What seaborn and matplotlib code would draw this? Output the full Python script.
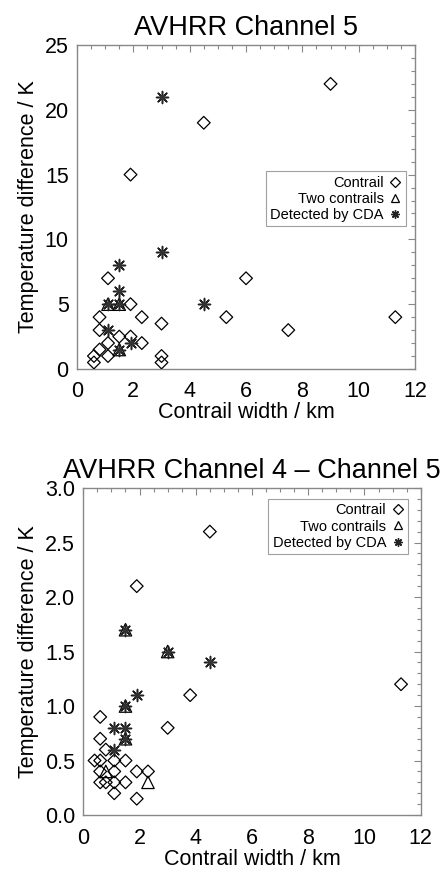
import matplotlib
matplotlib.use("Agg")
import matplotlib.pyplot as plt
import seaborn as sns
import pandas as pd
from matplotlib.lines import Line2D
from matplotlib.ticker import MultipleLocator

sns.set_style("white")
plt.rcParams['font.family'] = ['Liberation Sans', 'DejaVu Sans']
plt.rcParams['text.color'] = 'black'
plt.rcParams['axes.labelcolor'] = 'black'
plt.rcParams['xtick.color'] = 'black'
plt.rcParams['ytick.color'] = 'black'

# ---- Panel 1: AVHRR Channel 5 ----
ch5_contrail_x = [9.0, 4.5, 1.9, 1.1, 6.0, 1.9, 0.8, 2.3, 5.3, 11.3, 3.0, 0.8, 7.5,
                  1.5, 1.9, 1.1, 2.3, 0.8, 0.6, 1.1, 3.0, 0.6, 3.0]
ch5_contrail_y = [22.0, 19.0, 15.0, 7.0, 7.0, 5.0, 4.0, 4.0, 4.0, 4.0, 3.5, 3.0, 3.0,
                  2.5, 2.5, 2.0, 2.0, 1.5, 1.0, 1.0, 1.0, 0.5, 0.5]
ch5_two_x = [1.1, 1.5, 1.5]
ch5_two_y = [5.0, 5.0, 1.5]
ch5_cda_x = [3.0, 3.0, 1.5, 1.5, 1.1, 1.5, 4.5, 1.1, 1.9, 1.5]
ch5_cda_y = [21.0, 9.0, 8.0, 6.0, 5.0, 5.0, 5.0, 3.0, 2.0, 1.5]

# ---- Panel 2: AVHRR Channel 4 - Channel 5 ----
ch45_contrail_x = [4.5, 1.9, 3.8, 0.6, 3.0, 0.6, 0.8, 0.4, 0.6, 1.1, 1.5,
                   0.6, 1.1, 1.9, 2.3, 0.6, 0.8, 1.1, 1.5, 1.1, 1.9, 11.3]
ch45_contrail_y = [2.6, 2.1, 1.1, 0.9, 0.8, 0.7, 0.6, 0.5, 0.5, 0.5, 0.5,
                   0.4, 0.4, 0.4, 0.4, 0.3, 0.3, 0.3, 0.3, 0.2, 0.15, 1.2]
ch45_two_x = [1.5, 3.0, 1.5, 1.5, 0.8, 2.3]
ch45_two_y = [1.7, 1.5, 1.0, 0.7, 0.4, 0.3]
ch45_cda_x = [1.5, 3.0, 4.5, 1.9, 1.5, 1.1, 1.5, 1.5, 1.1]
ch45_cda_y = [1.7, 1.5, 1.4, 1.1, 1.0, 0.8, 0.8, 0.7, 0.6]

xticks = [0, 2, 4, 6, 8, 10, 12]

fig = plt.figure(figsize=(4.47, 8.69), dpi=100)
ax1 = fig.add_axes([0.1723, 0.5754, 0.7562, 0.3728])
ax2 = fig.add_axes([0.1864, 0.0621, 0.7548, 0.3763])

SPINE = '#888888'
LAB = 15.5

def draw(ax, cx, cy, tx, ty, sx, sy):
    sns.scatterplot(x=cx, y=cy, ax=ax, marker='D', s=42, facecolors='none',
                    edgecolor='black', linewidth=0.9, zorder=3, legend=False)
    sns.scatterplot(x=tx, y=ty, ax=ax, marker='^', s=80, facecolors='none',
                    edgecolor='black', linewidth=0.9, zorder=3, legend=False)
    sns.scatterplot(x=sx, y=sy, ax=ax, marker=(8, 2, 0), s=75, color='#222222',
                    linewidth=1.1, zorder=4, legend=False)
    sns.scatterplot(x=sx, y=sy, ax=ax, marker='o', s=16, color='#333333',
                    linewidth=0, zorder=4, legend=False)

def style(ax, ylim, ymaj, ymin, yfmt):
    ax.set_xlim(0, 12)
    ax.set_ylim(*ylim)
    ax.set_xticks(xticks)
    ax.xaxis.set_minor_locator(MultipleLocator(0.5))
    ax.yaxis.set_major_locator(MultipleLocator(ymaj))
    ax.yaxis.set_minor_locator(MultipleLocator(ymin))
    ax.yaxis.set_major_formatter(yfmt)
    for s in ax.spines.values():
        s.set_color(SPINE)
        s.set_linewidth(1.0)
    ax.tick_params(which='both', direction='in', top=True, right=True,
                   color=SPINE, width=0.8, labelsize=LAB, labelcolor='black', pad=6)
    ax.tick_params(axis='x', which='major', pad=9)
    ax.tick_params(which='major', length=5)
    ax.tick_params(which='minor', length=3)
    ax.set_xlabel('Contrail width / km', fontsize=LAB, labelpad=0, color='black')
    ax.set_ylabel('Temperature difference / K', fontsize=LAB, color='black')

def legend(ax, **kw):
    handles = [
        Line2D([], [], linestyle='', marker='D', markersize=5, markerfacecolor='none',
               markeredgecolor='black', markeredgewidth=0.9),
        Line2D([], [], linestyle='', marker='^', markersize=6, markerfacecolor='none',
               markeredgecolor='black', markeredgewidth=0.9),
        Line2D([], [], linestyle='', marker=(8, 2, 0), markersize=6, color='#222222',
               markeredgewidth=1.0),
    ]
    lg = ax.legend(handles, ['Contrail', 'Two contrails', 'Detected by CDA'],
                   markerfirst=False, fontsize=10.5, frameon=True, fancybox=False,
                   handlelength=0.8, handletextpad=0.4, borderpad=0.3,
                   labelspacing=0.15, borderaxespad=0.3, **kw)
    lg.get_frame().set_edgecolor(SPINE)
    lg.get_frame().set_linewidth(0.8)
    for t in lg.get_texts():
        t.set_ha('right')
        t.set_color('black')
    lg._legend_box.align = 'right'

draw(ax1, ch5_contrail_x, ch5_contrail_y, ch5_two_x, ch5_two_y, ch5_cda_x, ch5_cda_y)
style(ax1, (0, 25), 5, 1, '{x:.0f}')
ax1.set_title('AVHRR Channel 5', fontsize=19.5, pad=7, color='black')
legend(ax1, loc='center right', bbox_to_anchor=(0.985, 0.525))

draw(ax2, ch45_contrail_x, ch45_contrail_y, ch45_two_x, ch45_two_y, ch45_cda_x, ch45_cda_y)
style(ax2, (0, 3), 0.5, 0.1, '{x:.1f}')
ax2.set_title('AVHRR Channel 4 \u2013 Channel 5', fontsize=19.5, pad=7, color='black')
legend(ax2, loc='upper right', bbox_to_anchor=(0.975, 0.98))

fig.savefig('out.png', dpi=100)
